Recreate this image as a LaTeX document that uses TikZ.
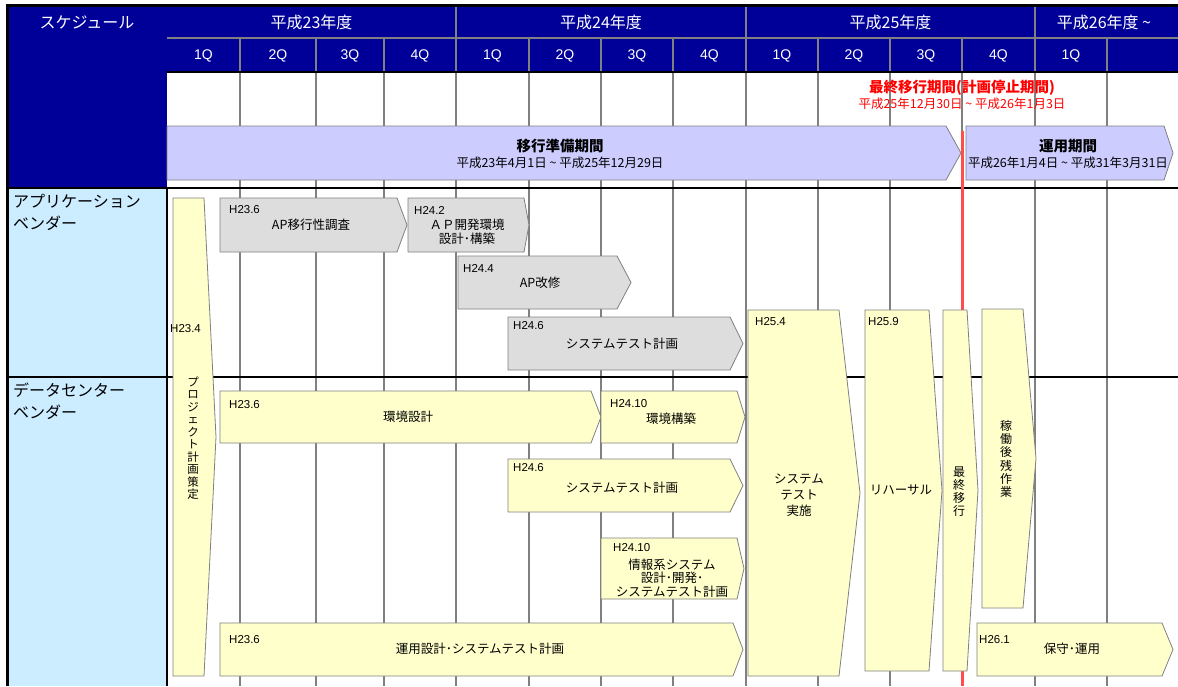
\documentclass[tikz,border=0pt]{standalone}
\usepackage{fontspec}
\setmainfont{Noto Sans CJK JP}
\newfontfamily\lat{Liberation Sans}
\definecolor{navy}{HTML}{000099}
\definecolor{lblue}{HTML}{CCECFF}
\definecolor{lav}{HTML}{CCCCFF}
\definecolor{taskgray}{HTML}{DDDDDD}
\definecolor{taskyel}{HTML}{FFFFCC}
\definecolor{gridgray}{HTML}{808080}
\definecolor{redline}{HTML}{FF4D4D}
\definecolor{redtext}{HTML}{FF0000}
\newcommand\pent[6]{\filldraw[#1] (#2,#3) -- (#4,#3) -- (#5,{(#3+#6)/2}) -- (#4,#6) -- (#2,#6) -- cycle;}
\newcommand\tld{\textasciitilde}
\tikzset{
  hdr/.style={text=white, font=\fontsize{16}{19}\selectfont, inner sep=0},
  qtr/.style={text=white, font=\fontsize{14}{17}\selectfont\lat, inner sep=0},
  grid/.style={draw=gridgray, line width=1.3},
  blk/.style={draw=black, line width=2},
  gtask/.style={draw=gridgray, fill=taskgray, line width=0.8},
  ytask/.style={draw=gridgray, fill=taskyel, line width=0.8},
  band/.style={draw=gridgray, fill=lav, line width=0.8},
  datelbl/.style={font=\fontsize{11.5}{13}\selectfont\lat, anchor=west, inner sep=0},
  tasktxt/.style={font=\fontsize{12.5}{14.5}\selectfont, align=center, inner sep=0},
  vtxt/.style={font=\fontsize{11.5}{12.5}\selectfont, align=center, inner sep=0},
  lanelbl/.style={font=\fontsize{16}{22}\selectfont, align=left, anchor=north west, inner sep=0},
}
\begin{document}
\begin{tikzpicture}[x=1pt,y=-1pt]
\useasboundingbox (0,0) rectangle (1178,686);
\fill[white] (0,0) rectangle (1178,686);
% header fills
\fill[navy] (8,7) rectangle (1178,72);
\fill[navy] (8,7) rectangle (167,188);
\fill[lblue] (8,188) rectangle (167,686);
% header grid
\draw[grid] (167,38) -- (1178,38);
\foreach \x in {456,746,1035} \draw[grid] (\x,7) -- (\x,38);
\foreach \x in {240,316,384,456,529,601,673,746,818,890,962,1035,1107} \draw[grid] (\x,38) -- (\x,72);
% body grid
\foreach \x in {240,316,384,456,529,601,673,746,818,890,962,1035,1107} \draw[grid] (\x,72) -- (\x,686);
\draw[blk] (167,72) -- (1178,72);
\draw[blk] (8,188) -- (1178,188);
\draw[blk] (8,377) -- (1178,377);
\draw[blk] (167,188) -- (167,686);
\draw[black, line width=3] (7,5) -- (7,686);
\draw[black, line width=3] (5.5,5.5) -- (1178,5.5);
% header texts
\node[hdr] (sched) at (87,22) {スケジュール};
\node[hdr] (y23) at (311.5,22) {平成23年度};
\node[hdr] (y24) at (601,22) {平成24年度};
\node[hdr] (y25) at (890.5,22) {平成25年度};
\node[hdr] (y26) at (1104,22) {平成26年度 \tld};
\foreach \a/\b/\t [count=\i] in {167/240/1Q,240/316/2Q,316/384/3Q,384/456/4Q,456/529/1Q,529/601/2Q,601/673/3Q,673/746/4Q,746/818/1Q,818/890/2Q,890/962/3Q,962/1035/4Q,1035/1107/1Q}
  \node[qtr] (q\i) at ({(\a+\b)/2},56) {\t};
% red marker line
\draw[redline, line width=3] (962,131) -- (962,686);
% red title
\node[text=redtext, font=\fontsize{14.5}{17}\selectfont\bfseries, inner sep=0] (fin) at (962,88) {最終移行期間(計画停止期間)};
\node[text=redtext, font=\fontsize{12.5}{14}\selectfont, inner sep=0] (findate) at (962,104) {平成25年12月30日 \tld{} 平成26年1月3日};
% lavender bands
\pent{band}{167}{126}{946}{961}{180}
\pent{band}{966}{126}{1164}{1173}{180}
\node[font=\fontsize{14.5}{17}\selectfont\bfseries, inner sep=0] (prep) at (560,146) {移行準備期間};
\node[font=\fontsize{12.5}{14}\selectfont, inner sep=0] (prepdate) at (560,163) {平成23年4月1日 \tld{} 平成25年12月29日};
\node[font=\fontsize{14.5}{17}\selectfont\bfseries, inner sep=0] (ops) at (1068,146) {運用期間};
\node[font=\fontsize{12.5}{14}\selectfont, inner sep=0] (opsdate) at (1068,163) {平成26年1月4日 \tld{} 平成31年3月31日};
% lane labels
\node[lanelbl] (lapp) at (13,194) {アプリケーション\\ベンダー};
\node[lanelbl] (ldc) at (13,383) {データセンター\\ベンダー};
% project plan
\pent{ytask}{173}{198}{204}{216}{676}
\node[datelbl] (d0) at (170,329) {H23.4};
\node[vtxt] (t0) at (193,438) {プ\\ロ\\ジ\\ェ\\ク\\ト\\計\\画\\策\\定};
% application vendor tasks
\pent{gtask}{220}{198}{397}{407}{252}
\node[datelbl] (d1) at (229,210) {H23.6};
\node[tasktxt] (t1) at (311,225) {AP移行性調査};
\pent{gtask}{408}{198}{524}{529}{252}
\node[datelbl] (d2) at (414,210) {H24.2};
\node[tasktxt, font=\fontsize{12.5}{13.5}\selectfont] (t2) at (467,232) {ＡＰ開発環境\\設計･構築};
\pent{gtask}{458}{256}{617}{631}{309}
\node[datelbl] (d3) at (463,268) {H24.4};
\node[tasktxt] (t3) at (540,283) {AP改修};
\pent{gtask}{508}{317}{730}{743}{370}
\node[datelbl] (d4) at (513,326) {H24.6};
\node[tasktxt] (t4) at (622,344) {システムテスト計画};
% data center tasks
\pent{ytask}{220}{391}{591}{601}{443}
\node[datelbl] (d5) at (229,405) {H23.6};
\node[tasktxt] (t5) at (408,417) {環境設計};
\pent{ytask}{601}{391}{737}{745}{443}
\node[datelbl] (d6) at (610,404) {H24.10};
\node[tasktxt] (t6) at (671,419) {環境構築};
\pent{ytask}{508}{459}{730}{743}{512}
\node[datelbl] (d7) at (513,468) {H24.6};
\node[tasktxt] (t7) at (622,488) {システムテスト計画};
\pent{ytask}{601}{538}{737}{744}{599}
\node[datelbl] (d8) at (613,548) {H24.10};
\node[tasktxt, font=\fontsize{12.5}{13.5}\selectfont] (t8) at (672,578) {情報系システム\\設計･開発･\\システムテスト計画};
\pent{ytask}{220}{623}{733}{743}{676}
\node[datelbl] (d9) at (229,640) {H23.6};
\node[tasktxt] (t9) at (480,649) {運用設計･システムテスト計画};
% late phase tasks
\pent{ytask}{748}{310}{839}{860}{676}
\node[datelbl] (d10) at (755,322) {H25.4};
\node[tasktxt, font=\fontsize{12.5}{16}\selectfont] (t10) at (799,495) {システム\\テスト\\実施};
\pent{ytask}{865}{310}{929}{942}{671}
\node[datelbl] (d11) at (868,322) {H25.9};
\node[tasktxt] (t11) at (901,490) {リハーサル};
\pent{ytask}{943}{310}{967}{978}{671}
\node[vtxt, font=\fontsize{12}{13}\selectfont] (t12) at (959,492) {最\\終\\移\\行};
\pent{ytask}{982}{309}{1023}{1036}{608}
\node[vtxt, font=\fontsize{12}{13.2}\selectfont] (t13) at (1006,459) {稼\\働\\後\\残\\作\\業};
\pent{ytask}{977}{623}{1162}{1173}{676}
\node[datelbl] (d14) at (979,640) {H26.1};
\node[tasktxt] (t14) at (1072,649) {保守･運用};
\end{tikzpicture}
\end{document}
